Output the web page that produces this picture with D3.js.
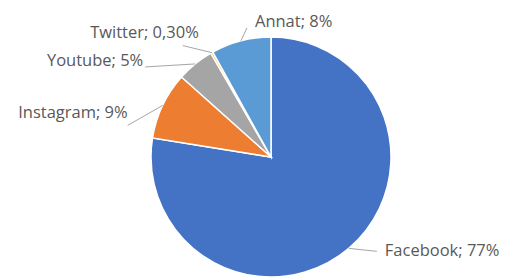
<!DOCTYPE html>
<html>
<head>
<meta charset="utf-8">
<script src="https://cdn.jsdelivr.net/npm/d3@7"></script>
<style>
  body { margin: 0; background: #fff; }
  svg { display: block; }
</style>
</head>
<body>
<svg id="chart" width="506" height="278"></svg>
<script>
// data
var names  = ["Facebook", "Instagram", "Youtube", "Twitter", "Annat"];
var values = [77, 9, 5, 0.3, 8];
var labels = ["Facebook; 77%", "Instagram; 9%", "Youtube; 5%", "Twitter; 0,30%", "Annat; 8%"];

var colors = {
  Facebook: "#4472c4",
  Instagram: "#ed7d31",
  Youtube: "#a5a5a5",
  Twitter: "#ffc000",
  Annat: "#5b9bd5"
};

// where each leader line ends, relative to the slice edge, and where the text sits from there
var labelLayout = {
  Facebook:  { dx: 28,  dy: 3,   anchor: "start", tx: 8,  ty: -1 },
  Instagram: { dx: -35, dy: 20,  anchor: "end",   tx: 0,  ty: -13 },
  Youtube:   { dx: -50, dy: 3,   anchor: "end",   tx: -2, ty: -7 },
  Twitter:   { dx: -29, dy: -7,  anchor: "end",   tx: 16, ty: -13 },
  Annat:     { dx: 6,   dy: -13, anchor: "start", tx: 8,  ty: -7 }
};

var svg = d3.select("#chart"),
    cx = 271, cy = 157, radius = 120;

var g = svg.append("g").attr("transform", "translate(" + cx + "," + cy + ")");

var pie = d3.pie().sort(null).value(function(d) { return d.value; });
var arc = d3.arc().innerRadius(0).outerRadius(radius);

var slices = pie(names.map(function(n, i) {
  return { name: n, value: values[i], label: labels[i] };
}));

g.selectAll("path.slice")
  .data(slices)
  .enter()
  .append("path")
  .attr("class", "slice")
  .attr("d", arc)
  .attr("fill", function(d) { return colors[d.data.name]; })
  .style("stroke", "white")
  .style("stroke-width", 1.5);

function edgePoint(d) {
  var a = (d.startAngle + d.endAngle) / 2;
  return [Math.sin(a) * radius, -Math.cos(a) * radius];
}

// leader lines
g.selectAll("line.leader")
  .data(slices)
  .enter()
  .append("line")
  .attr("class", "leader")
  .attr("x1", function(d) { return edgePoint(d)[0]; })
  .attr("y1", function(d) { return edgePoint(d)[1]; })
  .attr("x2", function(d) { return edgePoint(d)[0] + labelLayout[d.data.name].dx; })
  .attr("y2", function(d) { return edgePoint(d)[1] + labelLayout[d.data.name].dy; })
  .style("stroke", "#a6a6a6")
  .style("stroke-width", 1);

// labels
g.selectAll("text.label")
  .data(slices)
  .enter()
  .append("text")
  .attr("class", "label")
  .attr("x", function(d) { var l = labelLayout[d.data.name]; return edgePoint(d)[0] + l.dx + l.tx; })
  .attr("y", function(d) { var l = labelLayout[d.data.name]; return edgePoint(d)[1] + l.dy + l.ty; })
  .attr("dy", "0.35em")
  .attr("text-anchor", function(d) { return labelLayout[d.data.name].anchor; })
  .style("font-family", "'Open Sans', sans-serif")
  .style("font-size", "16.5px")
  .style("fill", "#595959")
  .text(function(d) { return d.data.label; });
</script>
</body>
</html>
